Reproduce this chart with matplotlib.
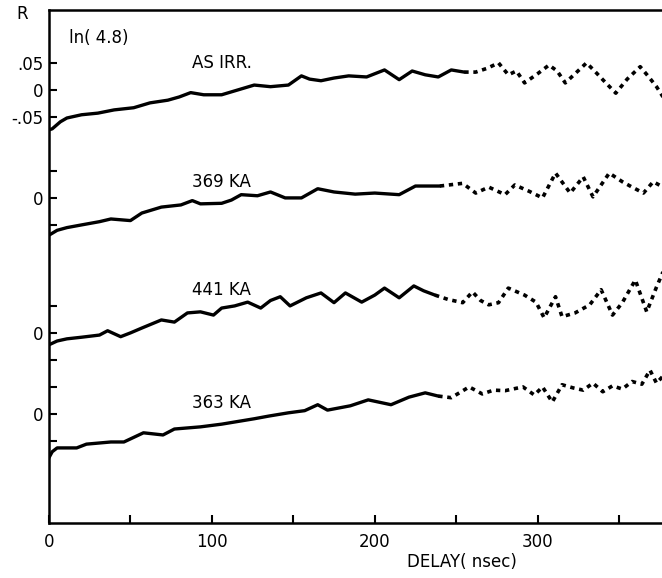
import matplotlib
matplotlib.use("Agg")
import matplotlib.pyplot as plt

# delay (nsec) and R values, one pair of lists per trace
t_irr = [0, 2, 7, 11, 20, 30, 40, 52, 62, 73, 80, 87, 95, 106, 116, 126, 136, 147, 155, 160,
         167, 175, 184, 195, 206, 215, 223, 231, 239, 247, 255, 262, 269, 276, 282, 287, 292,
         300, 307, 312, 317, 323, 330, 335, 340, 348, 355, 363, 368, 373, 377]
r_irr = [-0.074, -0.072, -0.059, -0.052, -0.046, -0.043, -0.037, -0.033, -0.024, -0.019, -0.013,
         -0.005, -0.009, -0.009, 0.0, 0.009, 0.006, 0.009, 0.026, 0.02, 0.017, 0.022, 0.026, 0.024,
         0.037, 0.019, 0.035, 0.028, 0.024, 0.037, 0.033, 0.033, 0.04, 0.05, 0.028, 0.035, 0.013,
         0.03, 0.046, 0.035, 0.013, 0.03, 0.05, 0.035, 0.019, -0.006, 0.02, 0.043, 0.025, 0.006, -0.013]

t_369 = [0, 5, 11, 20, 31, 38, 50, 57, 69, 81, 88, 93, 106, 112, 118, 128, 136, 145, 155, 165,
         175, 188, 200, 215, 225, 240, 254, 262, 270, 280, 286, 295, 303, 311, 320, 328, 334,
         344, 352, 358, 365, 371, 377]
r_369 = [-0.069, -0.06, -0.055, -0.05, -0.044, -0.039, -0.042, -0.028, -0.017, -0.013, -0.005,
         -0.011, -0.01, -0.004, 0.006, 0.004, 0.011, 0.0, 0.0, 0.017, 0.011, 0.007, 0.009, 0.006,
         0.022, 0.022, 0.027, 0.009, 0.02, 0.006, 0.024, 0.012, 0.0, 0.046, 0.009, 0.039, 0.002,
         0.046, 0.03, 0.02, 0.009, 0.03, 0.02]

t_441 = [0, 5, 11, 20, 31, 36, 44, 50, 57, 69, 77, 85, 93, 101, 106, 114, 122, 130, 136, 142,
         148, 158, 167, 175, 182, 192, 200, 206, 215, 224, 230, 237, 245, 254, 260, 265, 270,
         276, 282, 292, 299, 304, 311, 315, 323, 332, 339, 346, 352, 360, 367, 373, 377]
r_441 = [-0.022, -0.015, -0.011, -0.008, -0.004, 0.004, -0.007, 0.0, 0.009, 0.024, 0.02, 0.037,
         0.039, 0.033, 0.046, 0.05, 0.057, 0.046, 0.06, 0.067, 0.05, 0.065, 0.074, 0.056, 0.074,
         0.057, 0.07, 0.083, 0.065, 0.087, 0.078, 0.07, 0.062, 0.056, 0.076, 0.06, 0.052, 0.056,
         0.083, 0.07, 0.057, 0.028, 0.067, 0.03, 0.037, 0.052, 0.08, 0.033, 0.056, 0.098, 0.039,
         0.085, 0.113]

t_363 = [0, 2, 5, 17, 23, 38, 46, 58, 70, 77, 93, 106, 126, 135, 147, 157, 165, 171, 185, 196,
         210, 221, 231, 239, 247, 258, 266, 273, 280, 291, 298, 303, 309, 315, 322, 328, 334,
         340, 346, 352, 358, 364, 369, 373, 377]
r_363 = [-0.081, -0.07, -0.063, -0.063, -0.056, -0.052, -0.052, -0.035, -0.039, -0.028, -0.024,
         -0.019, -0.009, -0.004, 0.002, 0.006, 0.017, 0.007, 0.015, 0.026, 0.017, 0.031, 0.039,
         0.033, 0.03, 0.05, 0.037, 0.044, 0.043, 0.05, 0.035, 0.05, 0.022, 0.054, 0.048, 0.044,
         0.057, 0.041, 0.052, 0.046, 0.06, 0.055, 0.081, 0.057, 0.07]

labels = ["AS IRR.", "369 KA", "441 KA", "363 KA"]
offsets = [0.0, -0.2, -0.45, -0.6]
label_r = [0.05, 0.03, 0.08, 0.02]
noisy_from = [255, 250, 240, 245]
xtick_labels = ["0", "", "100", "", "200", "", "300", ""]

traces = [(t_irr, r_irr), (t_369, r_369), (t_441, r_441), (t_363, r_363)]

plt.rcParams['font.family'] = ['DejaVu Sans']
fig = plt.figure(figsize=(6.62, 5.78), dpi=100)
ax = fig.add_axes([0.074, 0.0952, 0.93, 0.8875])

for (t, r), off, cut, name, lr in zip(traces, offsets, noisy_from, labels, label_r):
    y = [v + off for v in r]
    a = [i for i in range(len(t)) if t[i] <= cut]
    b = [i for i in range(len(t)) if t[i] >= t[a[-1]]]
    ax.plot([t[i] for i in a], [y[i] for i in a], color='black', lw=2.4, solid_capstyle='round')
    ax.plot([t[i] for i in b], [y[i] for i in b], color='black', lw=2.6,
            linestyle=(0, (1.2, 1.3)))
    ax.text(88, off + lr, name, fontsize=12, ha='left', va='center')

ax.text(12, 0.097, "ln( 4.8)", fontsize=12, ha='left', va='center')
fig.text(0.033, 0.975, "R", fontsize=12, ha='center', va='center')

ax.set_xlim(0, 378)
ax.set_ylim(-0.802, 0.148)

yt = []
yl = []
for off in offsets:
    yt += [off + 0.05, off, off - 0.05]
    yl += ["", "0", ""]
yl[0] = ".05"
yl[2] = "-.05"
ax.set_yticks(yt)
ax.set_yticklabels(yl)
ax.set_xticks(range(0, 351, 50))
ax.set_xticklabels(xtick_labels)
ax.tick_params(direction='in', length=6, width=1.5, labelsize=12)
ax.tick_params(axis='y', pad=4)
ax.tick_params(axis='x', pad=7)
ax.set_xlabel("DELAY( nsec)", fontsize=12, x=0.67, labelpad=2)

ax.spines['right'].set_visible(False)
for s in ['left', 'bottom', 'top']:
    ax.spines[s].set_linewidth(1.8)

fig.savefig("out.png", dpi=100)
